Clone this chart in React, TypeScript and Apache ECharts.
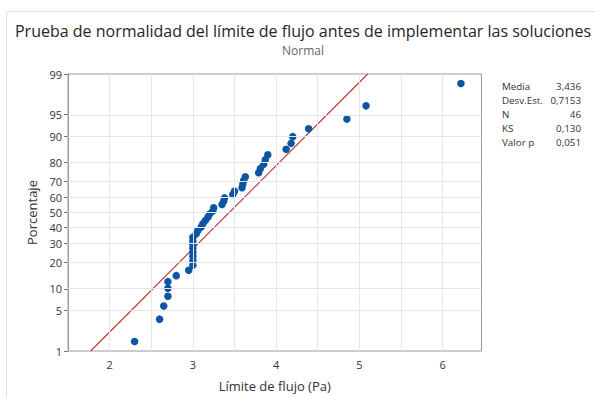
import React, { useEffect, useRef } from "react";
import * as echarts from "echarts";

const titleText = "Prueba de normalidad del límite de flujo antes de implementar las soluciones";
const subtitleText = "Normal";
const xAxisName = "Límite de flujo (Pa)";
const yAxisName = "Porcentaje";

// sorted observations (Pa)
const flowLimit = [
  2.30, 2.60, 2.65, 2.70, 2.70, 2.70, 2.80, 2.95, 3.00, 3.00,
  3.00, 3.00, 3.00, 3.00, 3.00, 3.00, 3.04, 3.06, 3.10, 3.12,
  3.15, 3.18, 3.20, 3.24, 3.25, 3.35, 3.37, 3.38, 3.48, 3.50,
  3.59, 3.60, 3.61, 3.63, 3.79, 3.81, 3.85, 3.87, 3.90, 4.12,
  4.18, 4.20, 4.39, 4.85, 5.08, 6.22,
];
// plotted percentages
const percent = [
  1.51, 3.66, 5.82, 7.97, 10.13, 12.28, 14.44, 16.59, 18.75, 20.91,
  23.06, 25.22, 27.37, 29.53, 31.68, 33.84, 35.99, 38.15, 40.30, 42.46,
  44.61, 46.77, 48.92, 51.08, 53.23, 55.39, 57.54, 59.70, 61.85, 64.01,
  66.16, 68.32, 70.47, 72.63, 74.78, 76.94, 79.09, 81.25, 83.41, 85.56,
  87.72, 89.87, 92.03, 94.18, 96.34, 98.49,
];

const fitMean = 3.436;
const fitSd = 0.7153;

const pctTicks = [1, 5, 10, 20, 30, 40, 50, 60, 70, 80, 90, 95, 99];
const pctGrid = [5, 10, 20, 30, 40, 50, 60, 70, 80, 90, 95];
const xTicks = [2, 3, 4, 5, 6];
const xGrid = [2, 2.5, 3, 3.5, 4, 4.5, 5, 5.5, 6];
const xMin = 1.5;
const xMax = 6.467;

const statLabels = ["Media", "Desv.Est.", "N", "KS", "Valor p"];
const statValues = ["3,436", "0,7153", "46", "0,130", "0,051"];

function normInv(p: number): number {
  const a = [-3.969683028665376e1, 2.209460984245205e2, -2.759285104469687e2, 1.38357751867269e2, -3.066479806614716e1, 2.506628277459239];
  const b = [-5.447609879822406e1, 1.615858368580409e2, -1.556989798598866e2, 6.680131188771972e1, -1.328068155288572e1];
  const c = [-7.784894002430293e-3, -3.223964580411365e-1, -2.400758277161838, -2.549732539343734, 4.374664141464968, 2.938163982698783];
  const d = [7.784695709041462e-3, 3.224671290700398e-1, 2.445134137142996, 3.754408661907416];
  const pl = 0.02425;
  const ph = 1 - pl;
  let q: number, r: number;
  if (p < pl) {
    q = Math.sqrt(-2 * Math.log(p));
    return (((((c[0] * q + c[1]) * q + c[2]) * q + c[3]) * q + c[4]) * q + c[5]) / ((((d[0] * q + d[1]) * q + d[2]) * q + d[3]) * q + 1);
  }
  if (p <= ph) {
    q = p - 0.5;
    r = q * q;
    return ((((((a[0] * r + a[1]) * r + a[2]) * r + a[3]) * r + a[4]) * r + a[5]) * q) / (((((b[0] * r + b[1]) * r + b[2]) * r + b[3]) * r + b[4]) * r + 1);
  }
  q = Math.sqrt(-2 * Math.log(1 - p));
  return -(((((c[0] * q + c[1]) * q + c[2]) * q + c[3]) * q + c[4]) * q + c[5]) / ((((d[0] * q + d[1]) * q + d[2]) * q + d[3]) * q + 1);
}

const zOf = (pct: number) => normInv(pct / 100);

export default function App() {
  const ref = useRef<HTMLDivElement>(null);
  useEffect(() => {
    if (!ref.current) return;
    const chart = echarts.init(ref.current, undefined, { renderer: "svg" });
    const font = "'Open Sans', 'Noto Sans', sans-serif";
    const zMin = zOf(pctTicks[0]);
    const zMax = zOf(pctTicks[pctTicks.length - 1]);
    const yTickVals = pctTicks.map(zOf);
    const points = flowLimit.map((x, i) => [x, zOf(percent[i])]);
    const fitLine = [
      [fitMean + zMin * fitSd, zMin],
      [fitMean + zMax * fitSd, zMax],
    ];
    const statX0 = 502;
    const statX1 = 581;
    const statY0 = 86;
    const statDy = 14.2;
    const graphics: any[] = [
      {
        type: "rect",
        shape: { x: 6.5, y: 11.5, width: 620, height: 420 },
        style: { fill: "none", stroke: "#dedede", lineWidth: 1 },
        silent: true,
      },
      {
        type: "text",
        x: 303,
        y: 31,
        style: { text: titleText, align: "center", verticalAlign: "middle", font: `16px ${font}`, fill: "#262626" },
      },
      {
        type: "text",
        x: 303,
        y: 50,
        style: { text: subtitleText, align: "center", verticalAlign: "middle", font: `12px ${font}`, fill: "#666" },
      },
    ];
    statLabels.forEach((lab, i) => {
      graphics.push({
        type: "text",
        x: statX0,
        y: statY0 + i * statDy,
        style: { text: lab, align: "left", verticalAlign: "middle", font: `9.8px ${font}`, fill: "#333" },
      });
      graphics.push({
        type: "text",
        x: statX1,
        y: statY0 + i * statDy,
        style: { text: statValues[i], align: "right", verticalAlign: "middle", font: `9.8px ${font}`, fill: "#333" },
      });
    });

    chart.setOption({
      animation: false,
      backgroundColor: "#fff",
      grid: { left: 68, top: 74, right: 113.5, bottom: 45.3, show: true, borderColor: "#9a9a9a", borderWidth: 1, backgroundColor: "transparent" },
      xAxis: {
        type: "value",
        min: xMin,
        max: xMax,
        name: xAxisName,
        nameLocation: "middle",
        nameGap: 28,
        nameTextStyle: { fontFamily: font, fontSize: 13, color: "#333" },
        axisLine: { show: true, lineStyle: { color: "#9a9a9a" } },
        axisTick: { show: true, customValues: xTicks, length: 4, lineStyle: { color: "#777" } },
        axisLabel: { customValues: xTicks, fontFamily: font, fontSize: 11, color: "#333", margin: 8 },
        splitLine: { show: false },
      },
      yAxis: {
        type: "value",
        min: zMin,
        max: zMax,
        name: yAxisName,
        nameLocation: "middle",
        nameGap: 26,
        nameTextStyle: { fontFamily: font, fontSize: 13, color: "#333" },
        axisLine: { show: true, lineStyle: { color: "#9a9a9a" } },
        axisTick: { show: true, customValues: yTickVals, length: 4, lineStyle: { color: "#777" } },
        axisLabel: {
          customValues: yTickVals,
          showMinLabel: true,
          showMaxLabel: true,
          fontFamily: font,
          fontSize: 11,
          color: "#333",
          margin: 6,
          formatter: (v: number) => {
            let best = 0;
            let bd = Infinity;
            yTickVals.forEach((t, i) => {
              const dd = Math.abs(t - v);
              if (dd < bd) {
                bd = dd;
                best = i;
              }
            });
            return String(pctTicks[best]);
          },
        },
        splitLine: { show: false },
      },
      series: [
        {
          type: "line",
          data: [],
          showSymbol: false,
          z: 1,
          silent: true,
          markLine: {
            silent: true,
            symbol: ["none", "none"],
            label: { show: false },
            lineStyle: { color: "#e6e6e6", type: "solid", width: 1 },
            data: [
              ...xGrid.map((v) => ({ xAxis: v })),
              ...pctGrid.map((p) => ({ yAxis: zOf(p) })),
            ],
          },
        },
        {
          type: "line",
          data: fitLine,
          showSymbol: false,
          symbol: "none",
          lineStyle: { color: "#c0302a", width: 1.1 },
          z: 2,
          silent: true,
        },
        {
          type: "scatter",
          data: points,
          symbol: "circle",
          symbolSize: 7.5,
          itemStyle: { color: "#0b55a4", opacity: 1 },
          z: 3,
        },
      ],
      graphic: graphics,
    });
    return () => chart.dispose();
  }, []);
  return <div ref={ref} style={{ position: "fixed", left: 0, top: 0, width: 595, height: 397 }} />;
}
